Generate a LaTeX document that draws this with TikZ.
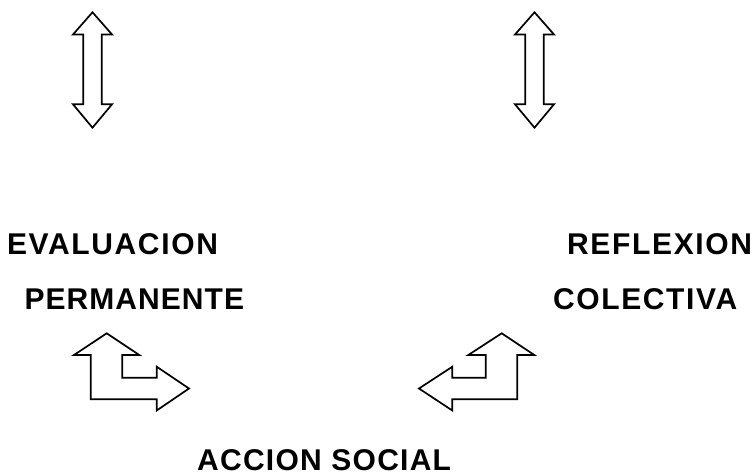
\documentclass[tikz,border=0pt]{standalone}
\usepackage{fontspec}
\setmainfont{Liberation Sans}
\newfontfamily\lsA{Liberation Sans}[LetterSpace=5.5]
\newfontfamily\lsB{Liberation Sans}[LetterSpace=3.5]
\newfontfamily\lsC{Liberation Sans}[LetterSpace=4.2]
\begin{document}
\begin{tikzpicture}[x=1pt,y=-1pt,
  blockarrow/.style={draw=black,line width=1.7pt,fill=white,line join=miter},
  label/.style={inner sep=0pt,anchor=base west,font=\fontsize{30}{30}\selectfont\bfseries}]
\useasboundingbox (0,0) rectangle (754,474);
% vertical double arrows
\foreach \cx in {92.5,534.5}{
  \draw[blockarrow] (\cx,12.3) -- (\cx+19.5,34.5) -- (\cx+9.2,34.5) -- (\cx+9.2,104.3)
    -- (\cx+19.5,104.3) -- (\cx,127.7) -- (\cx-19.5,104.3) -- (\cx-9.2,104.3)
    -- (\cx-9.2,34.5) -- (\cx-19.5,34.5) -- cycle;
}
% bent arrow left (up and right)
\draw[blockarrow] (106.7,333.3) -- (139.3,355) -- (122.3,355) -- (122.3,377.7)
  -- (156.7,377.7) -- (156.7,366.7) -- (189,388.5) -- (156.7,410.5) -- (156.7,399.3)
  -- (90.7,399.3) -- (90.7,355) -- (74,355) -- cycle;
% bent arrow right (up and left)
\draw[blockarrow] (501.7,333.3) -- (534.3,355) -- (517.3,355) -- (517.3,399.3)
  -- (452.3,399.3) -- (452.3,410.5) -- (419,388.5) -- (452.3,366.7) -- (452.3,377.7)
  -- (485.7,377.7) -- (485.7,355) -- (468.3,355) -- cycle;
% labels
\node[label] (eval) at (6.8,254) {\lsA EVALUACION};
\node[label] (perm) at (24.4,309) {\lsB PERMANENTE};
\node[label] (refl) at (567,254) {\lsA REFLEXION};
\node[label] (cole) at (552.8,309) {\lsA COLECTIVA};
\node[label] (acc) at (197,470.5) {\lsC ACCION SOCIAL};
\end{tikzpicture}
\end{document}
